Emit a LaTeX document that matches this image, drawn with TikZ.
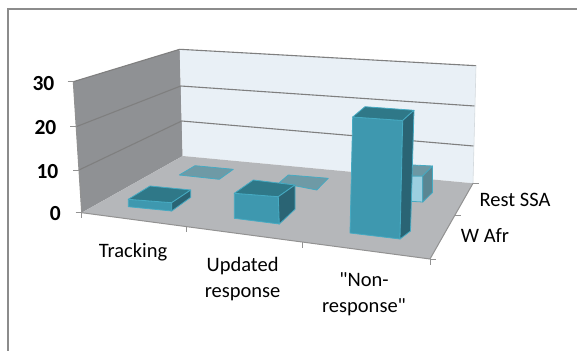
\documentclass[tikz,border=0pt]{standalone}
\usepackage{fontspec}
\setmainfont{Carlito}
\newfontfamily\qfont{Carlito}[Ligatures=ResetAll]
\newcommand{\sq}{{\qfont\symbol{34}}}
\definecolor{wallL}{HTML}{8F9194}
\definecolor{wallB}{HTML}{E9F0F6}
\definecolor{floorC}{HTML}{B5B7BA}
\definecolor{gridC}{HTML}{7F7F7F}
\definecolor{frameC}{HTML}{8C8C8C}
\definecolor{barF}{HTML}{3E98AF}
\definecolor{barT}{HTML}{2F7888}
\definecolor{barS}{HTML}{2A6474}
\definecolor{barE}{HTML}{46AAC2}
\definecolor{tileF}{HTML}{6E9AA6}
\definecolor{lbF}{HTML}{9CCFE0}
\definecolor{lbT}{HTML}{6C98A4}
\definecolor{lbS}{HTML}{5A8692}
\tikzset{
  front/.style={fill=barF,draw=barE,line width=0.8pt,line join=round},
  topf/.style={fill=barT,draw=barE,line width=0.8pt,line join=round},
  sidef/.style={fill=barS,draw=barE,line width=0.8pt,line join=round},
  tile/.style={fill=tileF,draw=barE,line width=0.8pt,line join=round},
  lfront/.style={fill=lbF,draw=barE,line width=0.8pt,line join=round},
  ltop/.style={fill=lbT,draw=barE,line width=0.8pt,line join=round},
  lside/.style={fill=lbS,draw=barE,line width=0.8pt,line join=round},
  gridln/.style={draw=gridC,line width=1.1pt},
  axisln/.style={draw=gridC!85,line width=1pt},
  ylab/.style={font=\fontsize{21.5}{25}\selectfont\bfseries,anchor=east,inner sep=0pt},
  clab/.style={font=\fontsize{20.5}{26}\selectfont,align=center,inner sep=0pt},
}
\begin{document}
\begin{tikzpicture}[x=1pt,y=-1pt]
\useasboundingbox (0,0) rectangle (577,350);
\fill[white] (0,0) rectangle (577,350);
% frame
\draw[frameC,line width=2pt] (8,352) -- (8,9) -- (580,9);
% left wall
\fill[wallL] (73.3,81.7) -- (179.7,49.3) -- (182.7,156) -- (81.7,212.7) -- cycle;
% back wall
\fill[wallB] (179.7,49.3) -- (476,65.7) -- (473,183.3) -- (182.7,156) -- cycle;
% floor
\fill[floorC] (81.7,212.7) -- (182.7,156) -- (473,183.3) -- (430,259) -- cycle;
% grid lines
\draw[gridln] (73.3,81.7) -- (179.7,49.3) -- (476,65.7);
\draw[gridln] (76.2,126.7) -- (180.7,86) -- (474.5,106);
\draw[gridln] (79,170) -- (181.7,121) -- (473.5,146);
\draw[wallB!80!gray,line width=0.6pt] (476,65.7) -- (473,183.3);
% left axis
\draw[axisln] (73.3,81.7) -- (81.7,212.7);
\draw[axisln] (67.5,81.7) -- (73.3,81.7);
\draw[axisln] (70.2,126.7) -- (76.2,126.7);
\draw[axisln] (73,170) -- (79,170);
\draw[axisln] (75.5,212.7) -- (81.7,212.7);
% floor front / right edges
\draw[axisln] (81.7,212.7) -- (430,259) -- (473,183.3);
\draw[axisln] (81.7,212.7) -- (81.7,218);
\draw[axisln] (186.7,226.5) -- (186.7,232);
\draw[axisln] (302.3,242) -- (302.3,247.5);
\draw[axisln] (430,259) -- (430,264.5);
\draw[axisln] (473,183.3) -- (478.5,183.3);
\draw[axisln] (455,215) -- (460.5,215);
\draw[axisln] (430,259) -- (435.5,259);
% Rest SSA series
\draw[tile] (179.3,175) -- (195,165.7) -- (233.3,169.3) -- (219.3,179.3) -- cycle;
\draw[tile] (279.3,182.7) -- (288.3,175) -- (328.3,178.3) -- (316.7,190) -- cycle;
\draw[lfront] (405,176) -- (422.7,176) -- (422.7,202) -- (405,201) -- cycle;
\draw[ltop] (405,176) -- (413,165) -- (432.5,166) -- (422.7,176) -- cycle;
\draw[lside] (422.7,176) -- (432.5,166) -- (432.5,192.5) -- (422.7,202) -- cycle;
% W Afr series
\draw[front] (128.3,199.3) -- (171.7,202.7) -- (171.7,211) -- (128.3,206.7) -- cycle;
\draw[topf] (128.3,199.3) -- (150,186) -- (190.7,190) -- (171.7,202.7) -- cycle;
\draw[sidef] (171.7,202.7) -- (190.7,190) -- (190.7,197.3) -- (171.7,211) -- cycle;
\draw[front] (234.3,193.3) -- (278.3,196.7) -- (279.3,224) -- (234.3,218.3) -- cycle;
\draw[topf] (234.3,193.3) -- (253.3,180) -- (295,185) -- (278.3,196.7) -- cycle;
\draw[sidef] (278.3,196.7) -- (295,185) -- (295,209.3) -- (279.3,224) -- cycle;
\draw[front] (352.7,117) -- (402.7,120.5) -- (400,239) -- (350,233) -- cycle;
\draw[topf] (352.7,117) -- (365,106.7) -- (414,110.3) -- (402.7,120.5) -- cycle;
\draw[sidef] (402.7,120.5) -- (414,110.3) -- (410.5,231) -- (400,239) -- cycle;
% labels
\node[ylab] (y30) at (54.5,83.3) {30};
\node[ylab] (y20) at (56.5,127.7) {20};
\node[ylab] (y10) at (58.5,171.7) {10};
\node[ylab] (y0) at (61,213.3) {0};
\node[clab] (c1) at (133,251.7) {Tracking};
\node[clab] (c2) at (242.6,278.7) {Updated\\response};
\node[clab] (c3) at (364,294.2) {\sq Non-\\response\sq};
\node[clab] (s2) at (515,200) {Rest SSA};
\node[clab] (s1) at (485,235) {W Afr};
\end{tikzpicture}
\end{document}
